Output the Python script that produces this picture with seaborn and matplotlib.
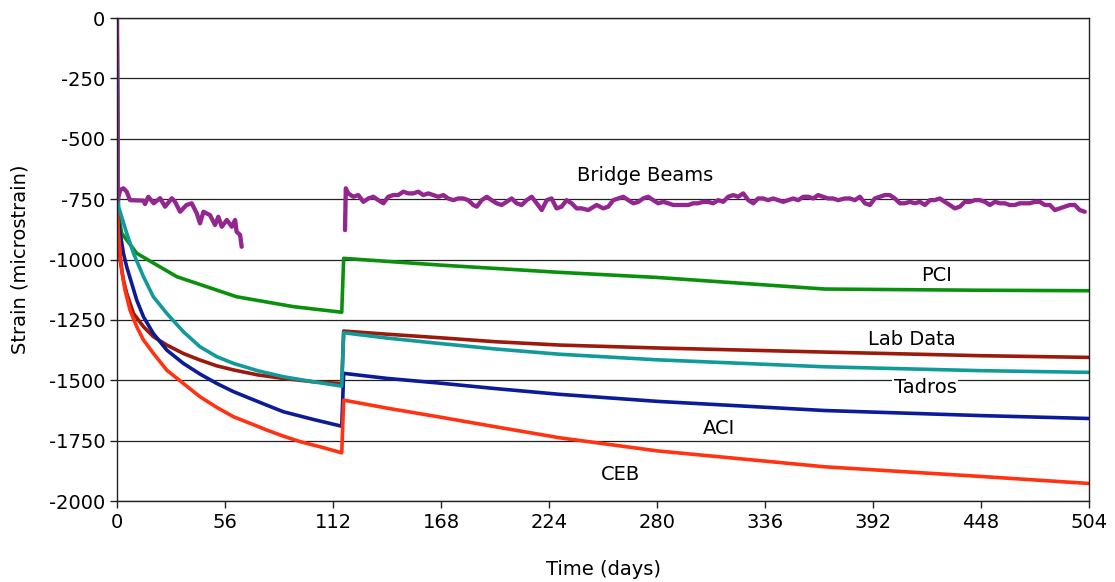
import numpy as np
import pandas as pd
import matplotlib
matplotlib.use("Agg")
import matplotlib.pyplot as plt
import seaborn as sns

# series (days, microstrain)
pci_t = [0, 0.7, 2.4, 10.2, 31, 62, 91.5, 116.5, 117.5, 168, 229.6, 280, 367, 448, 504]
pci_v = [0, -809, -891, -974, -1071, -1154, -1195, -1218, -995, -1023, -1053, -1074, -1122, -1127, -1129]

lab_t = [0, 0.2, 0.7, 1.6, 3.3, 5, 8.5, 13.7, 18.8, 25.8, 34.4, 43, 51.7, 60.4, 73.3, 86.2, 101.8, 116.5,
         117.5, 140, 168, 196, 229.6, 280, 367, 448, 504]
lab_v = [0, -781, -891, -1002, -1085, -1140, -1223, -1278, -1319, -1354, -1389, -1416, -1440, -1457, -1478,
         -1492, -1506, -1513, -1296, -1309, -1324, -1340, -1354, -1366, -1383, -1398, -1405]

aci_t = [0, 0.2, 0.7, 1.6, 3.3, 5, 7.6, 10.2, 13.7, 18.8, 25.8, 34.4, 43, 51.7, 60.4, 69, 77.7, 86.2,
         101.8, 116.5, 117.5, 140, 168, 196, 229.6, 280, 367, 448, 504]
aci_v = [0, -781, -837, -890, -974, -1030, -1099, -1168, -1237, -1306, -1375, -1430, -1474, -1513, -1547,
         -1575, -1603, -1630, -1662, -1690, -1471, -1492, -1512, -1534, -1558, -1587, -1625, -1646, -1658]

ceb_t = [0, 0.2, 0.7, 1.6, 2.4, 4.1, 6.7, 10.2, 13.7, 18.8, 25.8, 34.4, 43, 51.7, 60.4, 69, 77.7, 86.2,
         95, 105.2, 116.5, 117.5, 140, 168, 196, 229.6, 280, 367, 448, 504]
ceb_v = [0, -781, -891, -974, -1044, -1126, -1209, -1278, -1333, -1388, -1458, -1513, -1568, -1612, -1651,
         -1678, -1706, -1731, -1754, -1775, -1800, -1582, -1615, -1653, -1692, -1738, -1792, -1858, -1898, -1927]

tad_t = [0, 0.7, 2.4, 5, 8.5, 13.7, 18.8, 25.8, 34.4, 43, 51.7, 60.4, 73.3, 86.2, 101.8, 116.5,
         117.5, 140, 168, 196, 229.6, 280, 367, 448, 504]
tad_v = [0, -781, -823, -891, -974, -1071, -1154, -1223, -1299, -1361, -1402, -1430, -1461, -1485, -1506,
         -1524, -1303, -1325, -1348, -1370, -1392, -1415, -1444, -1460, -1467]

# bridge beam gauges, first period (to ~day 65)
bb1_t = [0, 0.3, 1.6, 3.3, 5, 6.7, 13.7, 14.5, 16.2, 19, 22.3, 24.9, 28.4, 30, 32.7, 36, 38.7,
         41.3, 43, 44.8, 48.2, 50.8, 52.5, 54.3, 56.9, 59.5, 61.2, 62, 63.8, 64.6]
bb1_v = [0, -754, -712, -705, -719, -754, -756, -770, -740, -767, -746, -781, -746, -760, -802, -774, -767,
         -808, -850, -802, -816, -857, -823, -864, -836, -864, -836, -885, -898, -947]

# bridge beam gauges, after deck placement
bb2_t = [118.2, 118.6, 119.9, 122.5, 125.1, 127.7, 130.3, 132.9, 135.5, 138.1, 140.6, 143.2, 145.8, 148.4,
         151.0, 153.6, 156.2, 158.8, 161.4, 164.0, 166.6, 169.2, 171.7, 174.3, 176.9, 179.5, 182.1, 184.7,
         186.5, 189.1, 191.7, 194.2, 196.8, 199.4, 202.0, 204.6, 207.2, 209.8, 212.4, 215.0, 217.6, 220.2,
         222.8, 225.3, 227.9, 230.5, 233.1, 235.7, 238.3, 240.9, 244.3,
         248.7, 252.1, 254.7, 257.3, 259.9, 262.5, 265.1, 267.7, 270.3, 272.8, 275.4, 278.0, 280.6, 283.2,
         285.8, 288.4, 291.0, 293.6, 296.2, 298.8, 301.3, 303.9, 306.5, 309.1, 311.7, 314.3, 316.9, 319.5,
         322.1, 324.7, 327.3, 329.9, 332.4, 335.0, 337.6, 340.2, 342.8, 345.4, 348.0, 350.6, 353.2, 355.8,
         358.4, 361.0, 363.5, 366.1, 368.7, 371.3, 373.9,
         377.4, 380.0, 382.6, 385.2, 387.8, 390.4, 392.9, 395.5, 398.1, 400.7, 403.3, 405.9, 408.5, 411.1,
         413.7, 416.3, 418.9, 421.5, 424.0, 426.6, 429.2, 431.8, 434.4, 437.0, 439.6, 442.2, 444.8, 447.4,
         450.0, 452.6, 455.2, 457.8, 460.3, 462.9, 465.5, 468.1, 470.7, 473.3, 475.9, 478.5, 481.1, 483.7,
         486.3, 488.9, 491.4, 494.0, 496.6, 499.2, 501.8]
bb2_v = [-878, -705, -726, -740, -733, -761, -747, -740, -754, -767, -740, -733, -733, -719,
         -726, -726, -719, -733, -726, -733, -740, -733, -747, -754, -747, -747, -754, -774,
         -781, -754, -740, -754, -767, -774, -761, -747, -767, -774, -754, -740, -767, -795,
         -754, -747, -788, -781, -754, -767, -788, -788, -795,
         -774, -788, -781, -754, -747, -740, -754, -767, -761, -747, -740, -754, -767, -761,
         -767, -774, -774, -774, -774, -767, -767, -761, -761, -767, -754, -761, -740, -733,
         -740, -726, -754, -767, -747, -747, -754, -747, -754, -761, -754, -747, -754, -740,
         -740, -747, -733, -740, -747, -747, -754,
         -747, -747, -754, -740, -767, -774, -747, -740, -733, -733, -747, -767, -767, -761,
         -767, -761, -774, -754, -754, -747, -761, -774, -788, -781, -761, -761, -754, -754,
         -761, -774, -761, -767, -767, -774, -774, -767, -767, -767, -761, -761, -774, -774,
         -795, -788, -781, -774, -774, -795, -802]

series = [
    ("PCI", pci_t, pci_v, "#0a900e"),
    ("Lab Data", lab_t, lab_v, "#9b1a0c"),
    ("ACI", aci_t, aci_v, "#0c1b98"),
    ("CEB", ceb_t, ceb_v, "#ff3211"),
    ("Tadros", tad_t, tad_v, "#109a9a"),
    ("Bridge Beams 1", bb1_t, bb1_v, "#93268f"),
    ("Bridge Beams 2", bb2_t, bb2_v, "#93268f"),
]

sns.set_style("white")
plt.rcParams["font.family"] = ["DejaVu Sans"]
plt.rcParams["axes.unicode_minus"] = False
plt.rcParams["text.color"] = "black"
plt.rcParams["axes.labelcolor"] = "black"
plt.rcParams["xtick.color"] = "black"
plt.rcParams["ytick.color"] = "black"

fig = plt.figure(figsize=(11.15, 5.82), dpi=100)
ax = fig.add_axes([0.105, 0.139, 0.8717, 0.830])

for name, t, v, col in series:
    df = pd.DataFrame({"t": t, "v": v})
    lw = 3.1 if name.startswith("Bridge") else 2.6
    sns.lineplot(data=df, x="t", y="v", color=col, linewidth=lw,
                 estimator=None, sort=False, ax=ax)

ax.set_xlim(0, 504)
ax.set_ylim(-2000, 0)
ax.set_xticks(np.arange(0, 505, 56))
ax.set_yticks(np.arange(-2000, 1, 250))
ax.yaxis.grid(True, color="#222222", linewidth=0.9)
ax.set_axisbelow(True)
for s in ax.spines.values():
    s.set_color("#222222")
    s.set_linewidth(1.0)
ax.tick_params(axis="both", direction="out", length=5, width=1, labelsize=14,
               bottom=True, left=True, color="#222222")
ax.set_xlabel("Time (days)", fontsize=14, labelpad=20)
ax.set_ylabel("Strain (microstrain)", fontsize=14, labelpad=14)

ax.text(274, -650, "Bridge Beams", fontsize=14, ha="center", va="center")
ax.text(425, -1065, "PCI", fontsize=14, ha="center", va="center")
ax.text(412, -1330, "Lab Data", fontsize=14, ha="center", va="center")
ax.text(419, -1530, "Tadros", fontsize=14, ha="center", va="center",
        bbox=dict(facecolor="white", edgecolor="none", pad=1))
ax.text(312, -1700, "ACI", fontsize=14, ha="center", va="center")
ax.text(261, -1890, "CEB", fontsize=14, ha="center", va="center")

fig.savefig("out.png", dpi=100)
